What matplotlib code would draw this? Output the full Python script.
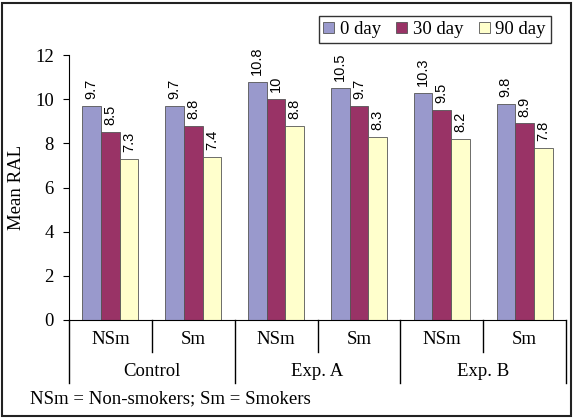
import matplotlib
matplotlib.use("Agg")
import matplotlib.pyplot as plt
from matplotlib.patches import Rectangle
import numpy as np

# data
sub_labels = ["NSm", "Sm", "NSm", "Sm", "NSm", "Sm"]
group_labels = ["Control", "Exp. A", "Exp. B"]
series_names = ["0 day", "30 day", "90 day"]
day0 = [9.7, 9.7, 10.8, 10.5, 10.3, 9.8]
day30 = [8.5, 8.8, 10, 9.7, 9.5, 8.9]
day90 = [7.3, 7.4, 8.8, 8.3, 8.2, 7.8]
colors = ["#9999cc", "#993366", "#ffffcc"]

serif = "Liberation Serif"
sans = "Liberation Sans"
fs = 13.5

fig = plt.figure(figsize=(5.74, 4.18), dpi=100)
ax = fig.add_axes([69 / 574, 1 - 320 / 418, 497 / 574, 265 / 418])

x = np.arange(len(sub_labels))
w = 0.226
for i, (name, vals) in enumerate(zip(series_names, [day0, day30, day90])):
    pos = x + (i - 1) * w
    ax.bar(pos, vals, w, color=colors[i], edgecolor="#555555", linewidth=0.6, label=name)
    for px, v in zip(pos, vals):
        ax.annotate(f"{v:g}", (px, v), xytext=(0, 5), textcoords="offset points",
                    rotation=90, ha="center", va="bottom", fontsize=10.5, family=sans)

ax.set_xlim(-0.5, len(sub_labels) - 0.5)
ax.set_ylim(0, 12)
ax.set_yticks(range(0, 13, 2))
ax.tick_params(axis="y", length=4, pad=7, labelsize=fs)
for t in ax.get_yticklabels():
    t.set_family(serif)
ax.set_xticks([])
ax.spines["top"].set_visible(False)
ax.spines["right"].set_visible(False)
ax.set_ylabel("Mean RAL", family=serif, fontsize=fs, labelpad=7)

# two-level category axis
tr = ax.get_xaxis_transform()
for k in range(len(sub_labels) + 1):
    xd = k - 0.5
    depth = 0.238 if k % 2 == 0 else 0.121
    ax.plot([xd, xd], [0, -depth], color="black", linewidth=1, transform=tr, clip_on=False)
for k, lab in enumerate(sub_labels):
    ax.text(k, -0.075, lab, transform=tr, ha="center", va="center", family=serif, fontsize=fs)
for g, lab in enumerate(group_labels):
    ax.text(2 * g + 0.5, -0.196, lab, transform=tr, ha="center", va="center", family=serif, fontsize=fs)

fig.text(30 / 574, 1 - 399 / 418, "NSm = Non-smokers; Sm = Smokers", family=serif,
         fontsize=fs, ha="left", va="center")

leg = fig.legend(loc="upper right", bbox_to_anchor=(560 / 574, 1 - 7 / 418), ncol=3,
                 frameon=True, fancybox=False, handlelength=0.6, handleheight=0.6,
                 handletextpad=0.3, columnspacing=0.8, borderpad=0.25,
                 prop={"family": serif, "size": fs})
leg.get_frame().set_edgecolor("black")
leg.get_frame().set_linewidth(1)

fig.patches.append(Rectangle((2 / 574, 2 / 418), 569 / 574, 413 / 418, transform=fig.transFigure,
                             fill=False, edgecolor="#222222", linewidth=1.5))

fig.savefig("out.png", dpi=100)
